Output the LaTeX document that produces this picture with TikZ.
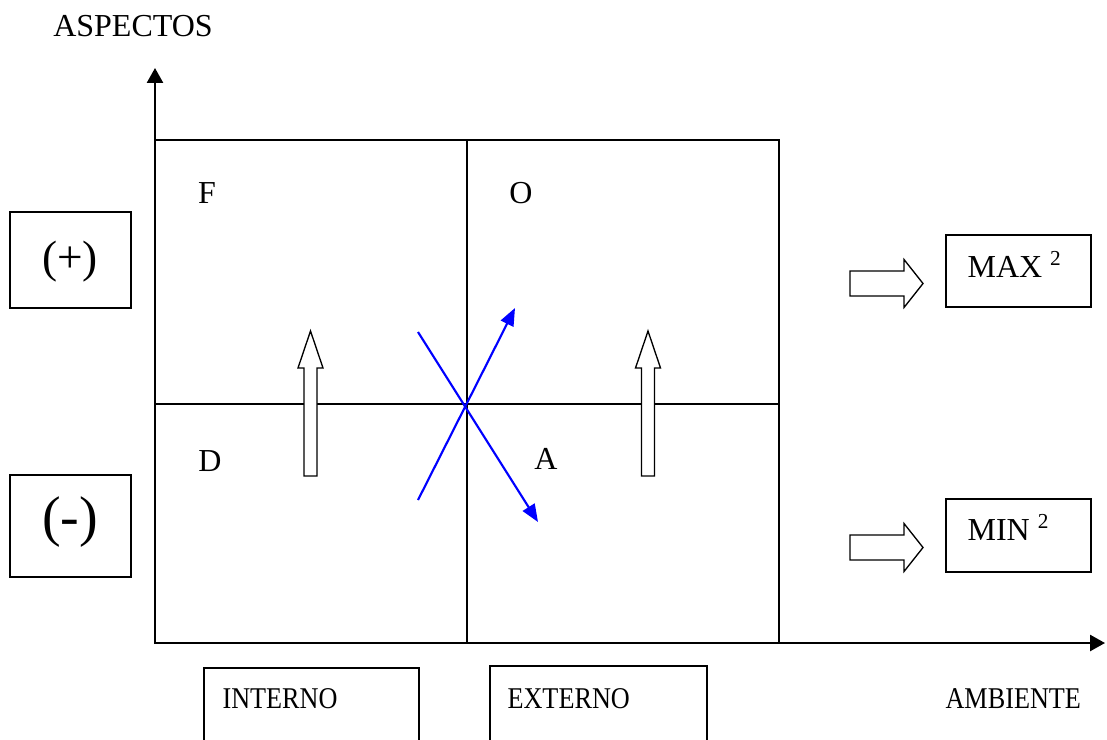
\documentclass[tikz,border=0pt]{standalone}
\usepackage{fontspec}
\setmainfont{Liberation Serif}
\usetikzlibrary{arrows.meta, positioning}

\newcommand{\narrow}[1]{\scalebox{0.87}[1]{#1}}

\tikzset{
  lbl/.style={font=\fontsize{12}{14}\selectfont, inner sep=0pt},
  sidelbl/.style={font=\fontsize{11.3}{13}\selectfont, inner sep=0pt},
  box/.style={draw, line width=0.5pt, inner sep=0pt},
  grid line/.style={line width=0.5pt},
  axis/.style={line width=0.9pt, -{Triangle[length=5.6pt,width=6pt]}},
  swot/.style={blue, line width=0.8pt, -{Triangle[length=6.6pt,width=5.2pt]}},
  blockarrow/.style={draw, line width=0.5pt, fill=white, line join=miter},
}

\begin{document}
\begin{tikzpicture}[x=0.375pt, y=-0.375pt]
    \clip (0,0) rectangle (1107,739);

    % axes
    \coordinate (origin) at (155,643);
    \coordinate (ytip) at (155,68);
    \coordinate (xtip) at (1105,643);
    \draw[axis] (origin) -- (ytip);
    \draw[axis] (origin) -- (xtip);
    \node[lbl] (aspectos) at (133,26) {ASPECTOS};
    \node[sidelbl, anchor=base west] (ambiente) at (945,708) {\narrow{AMBIENTE}};

    % quadrants
    \coordinate (tl) at (155,140);
    \coordinate (br) at (779,643);
    \coordinate (ctr) at (467,404);
    \draw[grid line] (tl) rectangle (br);
    \draw[grid line] (ctr |- tl) -- (ctr |- br);
    \draw[grid line] (ctr -| tl) -- (ctr -| br);
    \node[lbl] (f) at (207,193) {F};
    \node[lbl] (o) at (521,193) {O};
    \node[lbl] (d) at (210,461) {D};
    \node[lbl] (a) at (546,459) {A};

    % left boxes
    \node[box, minimum width=45.4pt, minimum height=36pt] (plus) at (70.5,260) {};
    \node[inner sep=0pt, font=\fontsize{17}{20}\selectfont] (plustxt) at (70,262) {(+)};
    \node[box, minimum width=45.4pt, minimum height=38.2pt] (minus) at (70.5,526) {};
    \node[inner sep=0pt, font=\fontsize{21}{24}\selectfont] (minustxt) at (70,522) {(-)};

    % bottom boxes
    \node[box, minimum width=80.6pt, minimum height=37.5pt] (interno) at (311.5,718) {};
    \node[sidelbl, anchor=base west] (internotxt) at (222,708) {\narrow{INTERNO}};
    \node[box, minimum width=81.4pt, minimum height=37.5pt] (externo) at (598.5,716) {};
    \node[sidelbl, anchor=base west] (externotxt) at (507,708) {\narrow{EXTERNO}};

    % right boxes
    \node[box, minimum width=54.4pt, minimum height=27pt] (max) at (1018.5,271) {};
    \node[lbl, anchor=base west] (maxtxt) at (967,277) {MAX \textsuperscript{2}};
    \node[box, minimum width=54.4pt, minimum height=27.4pt] (min) at (1018.5,535.5) {};
    \node[lbl, anchor=base west] (mintxt) at (967,540) {MIN \textsuperscript{2}};

    % block arrows up
    \foreach \c in {310.5,648}
        \draw[blockarrow] (\c-6.5,476) -- (\c+6.5,476) -- (\c+6.5,368) -- (\c+12.5,368)
            -- (\c,331) -- (\c-12.5,368) -- (\c-6.5,368) -- cycle;

    % block arrows right
    \foreach \r in {283.5,547.5}
        \draw[blockarrow] (850,\r-12.5) -- (904,\r-12.5) -- (904,\r-24) -- (923,\r)
            -- (904,\r+24) -- (904,\r+12.5) -- (850,\r+12.5) -- cycle;

    % crossing arrows
    \coordinate (s1) at (418,332);
    \coordinate (e1) at (538,522);
    \coordinate (s2) at (418,500);
    \coordinate (e2) at (515,308);
    \draw[swot] (s1) -- (e1);
    \draw[swot] (s2) -- (e2);
\end{tikzpicture}
\end{document}
